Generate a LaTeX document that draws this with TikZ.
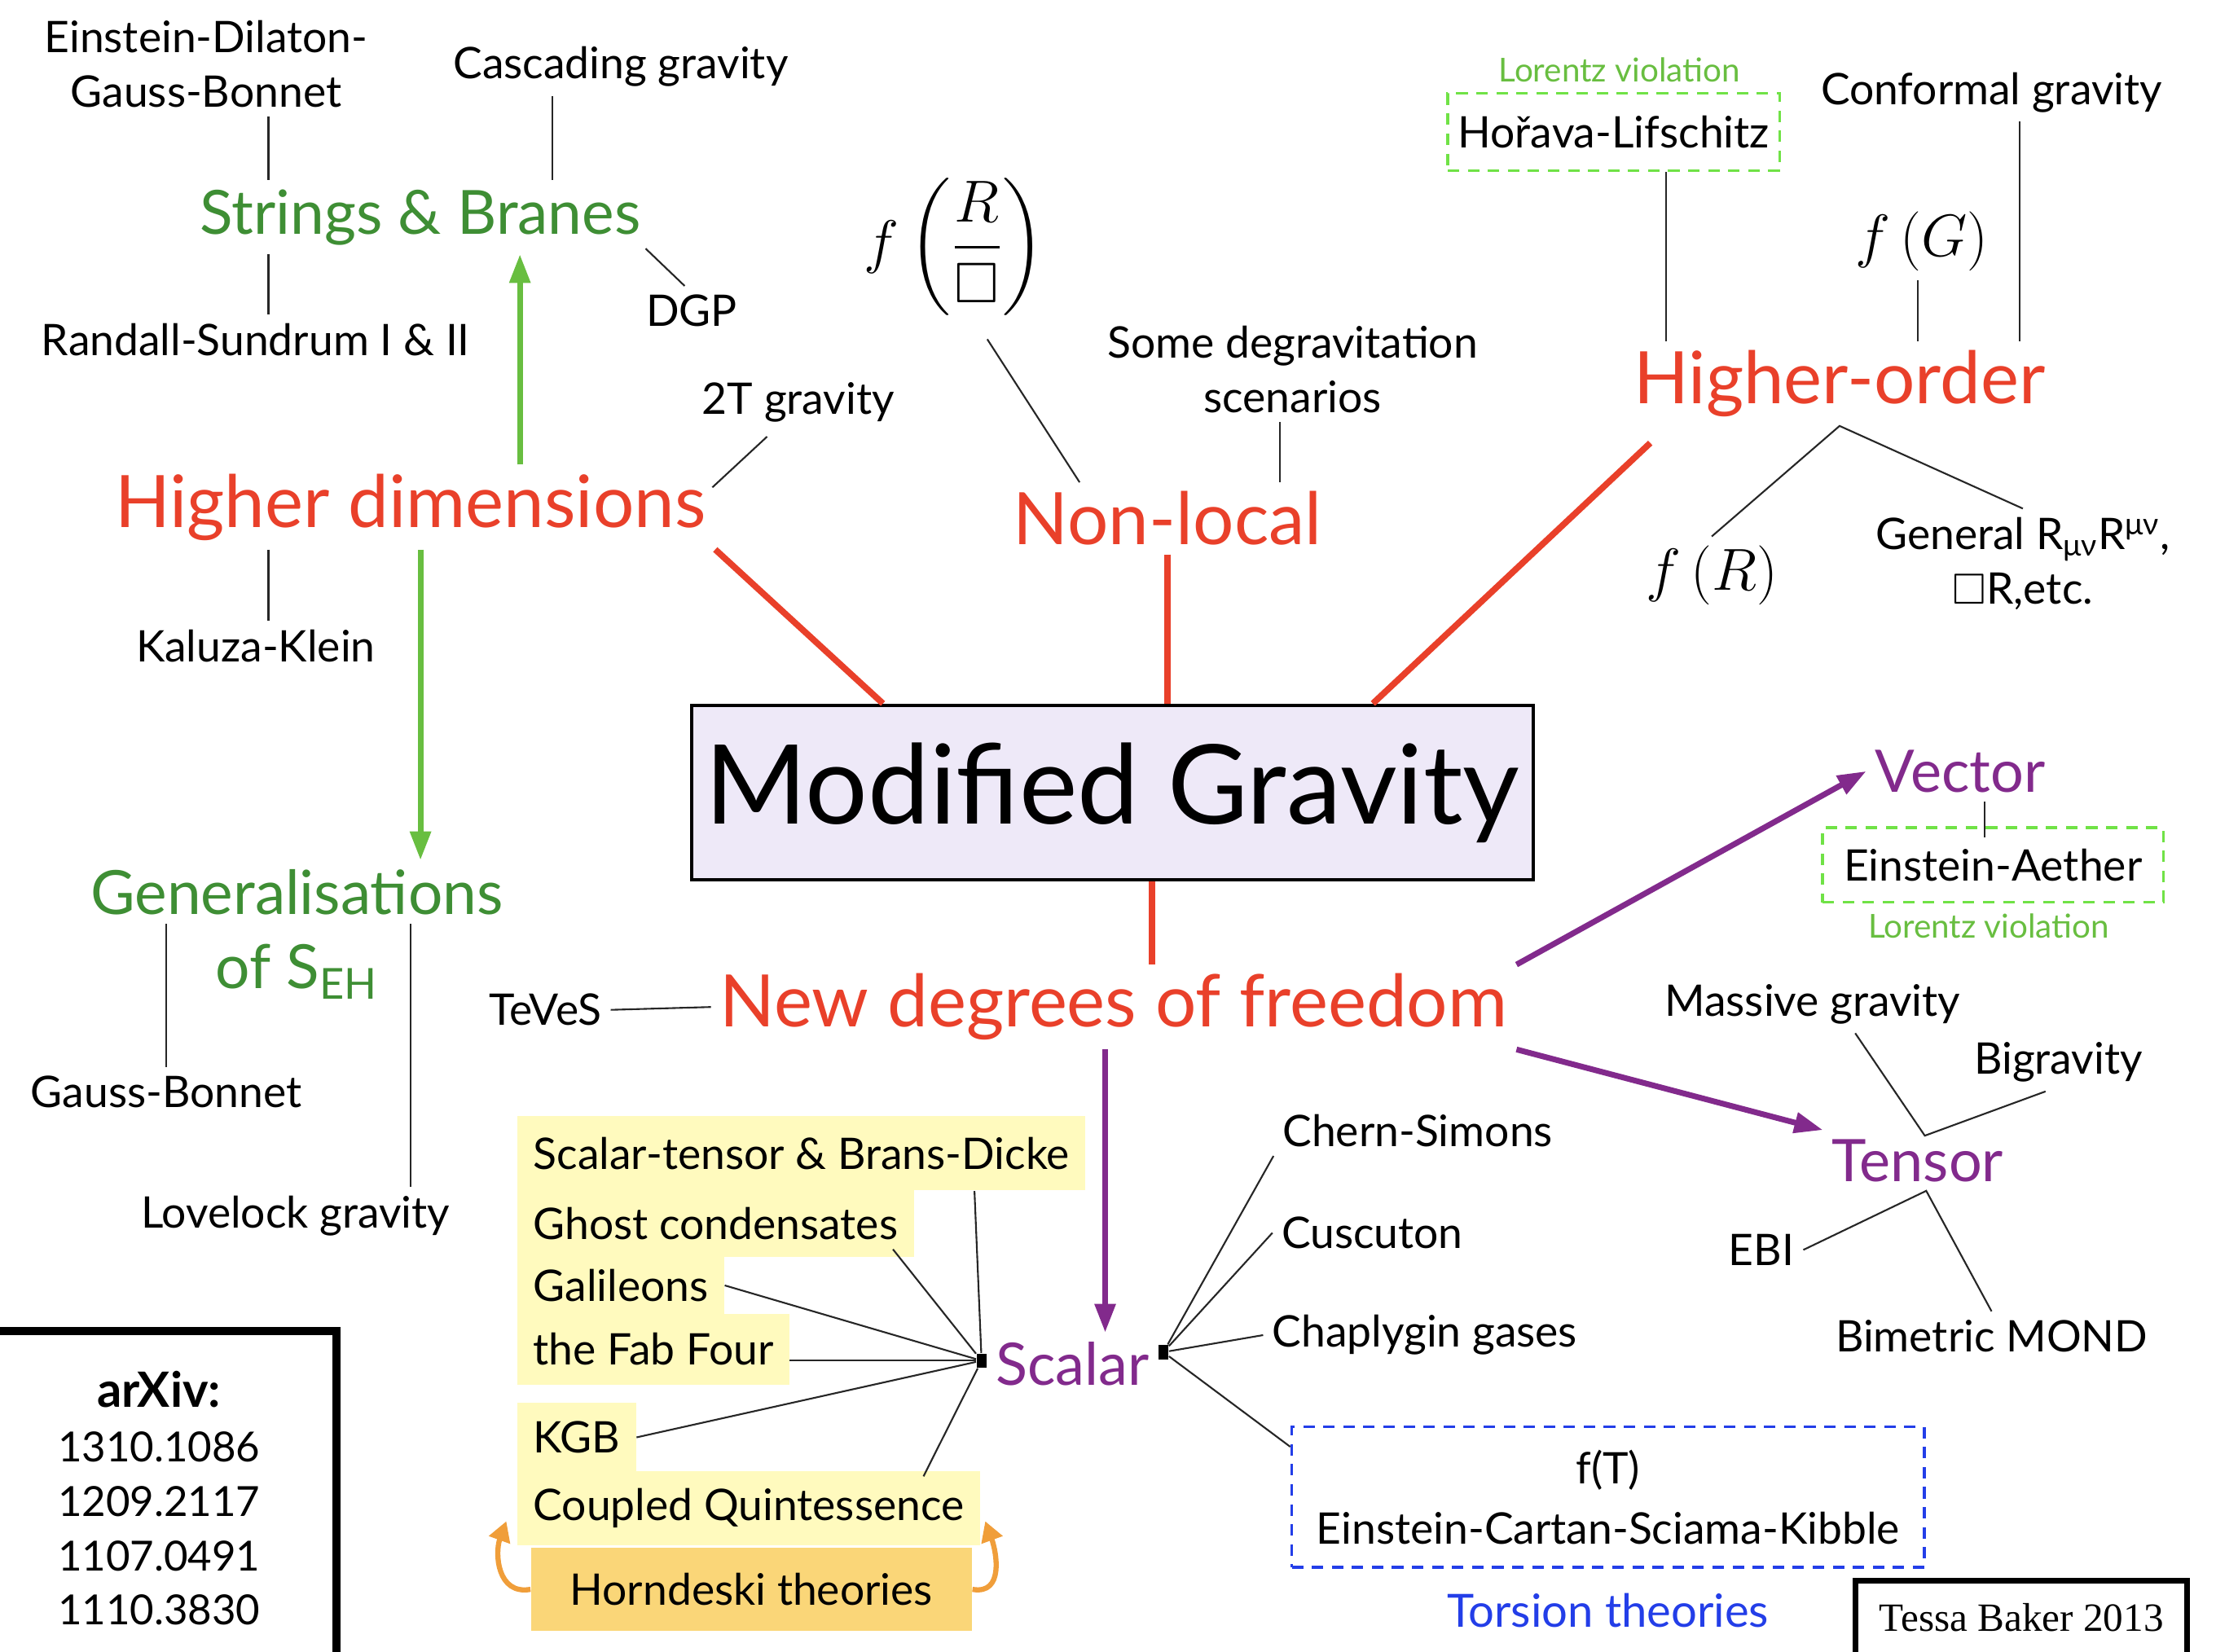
\documentclass[tikz,border=0pt]{standalone}
\usepackage{amssymb}
\usepackage{fontspec}
\setmainfont{Lato}
\newfontfamily\serifface{Liberation Serif}
\usetikzlibrary{arrows.meta,calc}
\definecolor{cinnabar}{RGB}{233, 64, 42}
\definecolor{fern}{RGB}{62, 142, 52}
\definecolor{leaf}{RGB}{104, 190, 64}
\definecolor{lime}{RGB}{112, 226, 70}
\definecolor{plum}{RGB}{130, 42, 140}
\definecolor{cobalt}{RGB}{35, 62, 232}
\definecolor{lavender}{RGB}{238, 233, 248}
\definecolor{butter}{RGB}{255, 250, 190}
\definecolor{apricot}{RGB}{250, 214, 120}
\definecolor{tangerine}{RGB}{240, 158, 58}
\tikzset{
    bodytext/.style={font=\fontsize{15.2}{19}\selectfont, align=center, inner sep=3pt},
    mathtext/.style={font=\fontsize{20}{24}\selectfont, inner sep=3pt},
    bigred/.style={font=\fontsize{25.3}{30}\selectfont, text=cinnabar, inner sep=3pt},
    midgreen/.style={font=\fontsize{21.3}{26}\selectfont, text=fern, inner sep=3pt},
    dofname/.style={font=\fontsize{20.5}{24}\selectfont, text=plum, inner sep=3pt},
    lvnote/.style={font=\fontsize{11.5}{13}\selectfont, text=leaf, inner sep=2pt},
    dashgreen/.style={draw=lime, line width=1pt, dash pattern=on 4pt off 3pt, inner xsep=2pt},
    dashblue/.style={draw=cobalt, line width=1pt, dash pattern=on 4pt off 3pt, inner xsep=2pt},
    scalarbox/.style={bodytext, fill=butter, anchor=west, inner xsep=5.5pt},
    knot/.style={fill=black, rectangle, inner sep=0pt, minimum width=3.5pt, minimum height=5pt},
    thinline/.style={draw=black!85, line width=0.6pt},
    redline/.style={draw=cinnabar, line width=2.2pt},
    greenarrow/.style={draw=leaf, line width=2pt, -{Triangle[length=10pt, width=7pt]}},
    purplearrow/.style={draw=plum, line width=2pt, -{Triangle[length=10pt, width=7pt]}},
    hornarrow/.style={draw=tangerine, line width=1.8pt, -{Triangle[length=7pt, width=7.5pt]}},
}

\begin{document}
\begin{tikzpicture}[x=0.01744cm, y=-0.01744cm]
    \useasboundingbox (0,0) rectangle (1560,1163);

    % higher dimensions branch
    \node[bodytext] (edgb)      at (145,45)  {Einstein-Dilaton-\\Gauss-Bonnet};
    \node[bodytext] (cascade)   at (437,47)  {Cascading gravity};
    \node[midgreen] (strings)   at (296,153) {Strings \& Branes};
    \node[bodytext] (rs)        at (180,239) {Randall-Sundrum I \& II};
    \node[bodytext] (dgp)       at (487,219) {DGP};
    \node[bodytext] (twot)      at (562,283) {2T gravity};
    \node[bigred]   (hd)        at (289,357) {Higher dimensions};
    \node[bodytext] (kk)        at (180,455) {Kaluza-Klein};
    \node[midgreen] (gen)       at (209,628) {Generalisations};
    \node[midgreen] (genof)     at (209,684) {of S\textsubscript{EH}};
    \node[bodytext] (gb)        at (117,769) {Gauss-Bonnet};
    \node[bodytext] (lovelock)  at (208,856) {Lovelock gravity};

    % non-local branch
    \node[mathtext] (frbox)     at (672,174) {$\displaystyle f\left(\frac{R}{\square}\right)$};
    \node[bodytext] (degrav)    at (910,260) {Some degravitation\\scenarios};
    \node[bigred]   (nonlocal)  at (822,365) {Non-local};

    % higher-order branch
    \node[lvnote]   (lvtop)     at (1140,49) {Lorentz violation};
    \node[bodytext, dashgreen, minimum width=116pt, minimum height=27pt] (horava) at (1136,93) {Hořava-Lifschitz};
    \node[bodytext] (conformal) at (1402,65) {Conformal gravity};
    \node[mathtext] (fg)        at (1353,170) {$f\,(G)$};
    \node[bigred]   (higher)    at (1295,270) {Higher-order};
    \node[mathtext] (fr)        at (1205,405) {$f\,(R)$};
    \node[bodytext] (general)   at (1424,397) {General R\textsubscript{μν}R\textsuperscript{μν},\\$\square$R,etc.};

    % centre
    \node[draw, line width=1.2pt, fill=lavender, minimum width=294pt, minimum height=61pt, inner xsep=1pt,
          font=\fontsize{38.5}{42}\selectfont] (mg) at (783,558) {Modified Gravity};
    \node[bigred]   (ndf)       at (784,709) {New degrees of freedom};
    \node[bodytext] (teves)     at (384,711) {TeVeS};

    % vector and tensor
    \node[dofname]  (vector)    at (1380,543) {Vector};
    \node[bodytext, dashgreen, minimum width=119pt, minimum height=26pt] (aether) at (1403,609) {Einstein-Aether};
    \node[lvnote]   (lvbottom)  at (1400,652) {Lorentz violation};
    \node[dofname]  (tensor)    at (1350,817) {Tensor};
    \node[bodytext] (massive)   at (1276,707) {Massive gravity};
    \node[bodytext] (bigravity) at (1449,748) {Bigravity};
    \node[bodytext] (ebi)       at (1240,880) {EBI};
    \node[bodytext] (bimond)    at (1402,941) {Bimetric MOND};

    % scalar
    \node[dofname]  (scalar)    at (755,960) {Scalar};
    \node[knot]     (sleft)     at (691,958) {};
    \node[knot]     (sright)    at (819,952) {};
    \node[scalarbox, minimum height=26pt]   (brans)     at (364,812)   {Scalar-tensor \& Brans-Dicke};
    \node[scalarbox, minimum height=23.5pt] (ghost)     at (364,861.5) {Ghost condensates};
    \node[scalarbox, minimum height=20pt]   (galileons) at (364,905)   {Galileons};
    \node[scalarbox, minimum height=25pt]   (fabfour)   at (364,950)   {the Fab Four};
    \node[scalarbox, minimum height=24pt]   (kgb)       at (364,1012)  {KGB};
    \node[scalarbox, minimum height=26pt]   (coupled)   at (364,1062)  {Coupled Quintessence};
    \node[bodytext, fill=apricot, minimum width=154pt, minimum height=29pt] (horndeski) at (529,1119) {Horndeski theories};
    \node[bodytext] (chern)     at (998,796) {Chern-Simons};
    \node[bodytext] (cuscuton)  at (966,868) {Cuscuton};
    \node[bodytext] (chaplygin) at (1003,940) {Chaplygin gases};
    \node[bodytext, dashblue, minimum width=221pt, minimum height=49pt] (torsion) at (1132,1054) {f(T)\\[2pt]Einstein-Cartan-Sciama-Kibble};
    \node[font=\fontsize{16}{18}\selectfont, text=cobalt] (torsionname) at (1132,1134) {Torsion theories};

    % corner boxes
    \node[draw, line width=3pt, minimum width=124pt, minimum height=117pt, align=center,
          font=\fontsize{14.5}{19}\selectfont] (arxiv) at (112,1055)
          {{\fontsize{17}{19}\selectfont\bfseries arXiv:}\\1310.1086\\1209.2117\\1107.0491\\1110.3830};
    \node[draw, line width=2pt, minimum width=116pt, minimum height=26pt, inner xsep=1pt,
          font=\serifface\fontsize{14}{16}\selectfont] (credit) at (1423,1139) {Tessa Baker 2013};

    % columns for the upright links
    \coordinate (colA) at (189,0);
    \coordinate (colB) at (389,0);
    \coordinate (colC) at (366,0);
    \coordinate (colD) at (296,0);
    \coordinate (colE) at (117,0);
    \coordinate (colF) at (289,0);
    \coordinate (colG) at (901,0);
    \coordinate (colH) at (1173,0);
    \coordinate (colI) at (1350,0);
    \coordinate (colJ) at (1422,0);
    \coordinate (colK) at (811,0);
    \coordinate (colL) at (778,0);
    \coordinate (colM) at (1397,0);
    \coordinate (tjoin) at ($(tensor.north)+(5,4)$);
    \coordinate (tfork) at ($(tensor.south)+(6,0)$);

    \draw[thinline] (edgb.south -| colA) -- (strings.north -| colA);
    \draw[thinline] (cascade.south -| colB) -- (strings.north -| colB);
    \draw[thinline] (strings.south -| colA) -- (rs.north -| colA);
    \draw[thinline] ($(strings.south east)+(-3,-4)$) -- ($(dgp.north)+(-5,0)$);
    \draw[greenarrow] (hd.north -| colC) -- (strings.south -| colC);
    \draw[thinline] ($(hd.north east)+(-2,16)$) -- ($(twot.south)+(-22,4)$);
    \draw[thinline] (hd.south -| colA) -- (kk.north -| colA);
    \draw[greenarrow] (hd.south -| colD) -- (gen.north -| colD);
    \draw[thinline] (gen.south -| colE) -- (gb.north -| colE);
    \draw[thinline] (gen.south -| colF) -- (lovelock.north -| colF);

    \draw[thinline] ($(frbox.south)+(23,10)$) -- ($(nonlocal.north west)+(53,0)$);
    \draw[thinline] (degrav.south -| colG) -- (nonlocal.north -| colG);

    \draw[thinline] (horava.south -| colH) -- (higher.north -| colH);
    \draw[thinline] (fg.south -| colI) -- (higher.north -| colI);
    \draw[thinline] (conformal.south -| colJ) -- (higher.north -| colJ);
    \draw[thinline] (fr.north) -- (higher.south) -- (general.north);

    \draw[redline] (hd.south east) -- ($(mg.north west)+(136,0)$);
    \draw[redline] (nonlocal.south) -- (nonlocal.south |- mg.north);
    \draw[redline] ($(higher.south west)+(18,12)$) -- ($(mg.north east)+(-114,0)$);
    \draw[redline] (mg.south -| colK) -- (ndf.north -| colK);
    \draw[thinline] (teves.east) -- (ndf.west);

    \draw[purplearrow] (ndf.south -| colL) -- (scalar.north -| colL);
    \draw[purplearrow] (ndf.north east) -- (vector.west);
    \draw[purplearrow] (ndf.south east) -- (tensor.north west);

    \draw[thinline] (vector.south -| colM) -- ([yshift=-4pt]aether.north -| colM);
    \draw[thinline] ($(massive.south)+(30,0)$) -- (tjoin) -- ($(bigravity.south)+(-9,0)$);
    \draw[thinline] (ebi.east) -- (tfork) -- (bimond.north);

    \draw[thinline] ($(brans.south -| sleft)+(-5,0)$) -- (sleft);
    \draw[thinline] ($(ghost.south east)+(-15,-6)$) -- (sleft);
    \draw[thinline] (galileons.east) -- (sleft);
    \draw[thinline] (fabfour.east |- sleft) -- (sleft);
    \draw[thinline] (kgb.east) -- (sleft);
    \draw[thinline] ($(coupled.north east)+(-40,4)$) -- (sleft);
    \draw[hornarrow] (horndeski.west) to[out=190, in=-110, looseness=1.2] ($(horndeski.west)+(-17,-48)$);
    \draw[hornarrow] (horndeski.east) to[out=-10, in=-70, looseness=1.2] ($(horndeski.east)+(9,-48)$);

    \draw[thinline] (sright) -- (chern.south west);
    \draw[thinline] (sright) -- (cuscuton.west);
    \draw[thinline] (sright) -- (chaplygin.west);
    \draw[thinline] (sright) -- ($(torsion.north west)+(0,15)$);
\end{tikzpicture}
\end{document}
